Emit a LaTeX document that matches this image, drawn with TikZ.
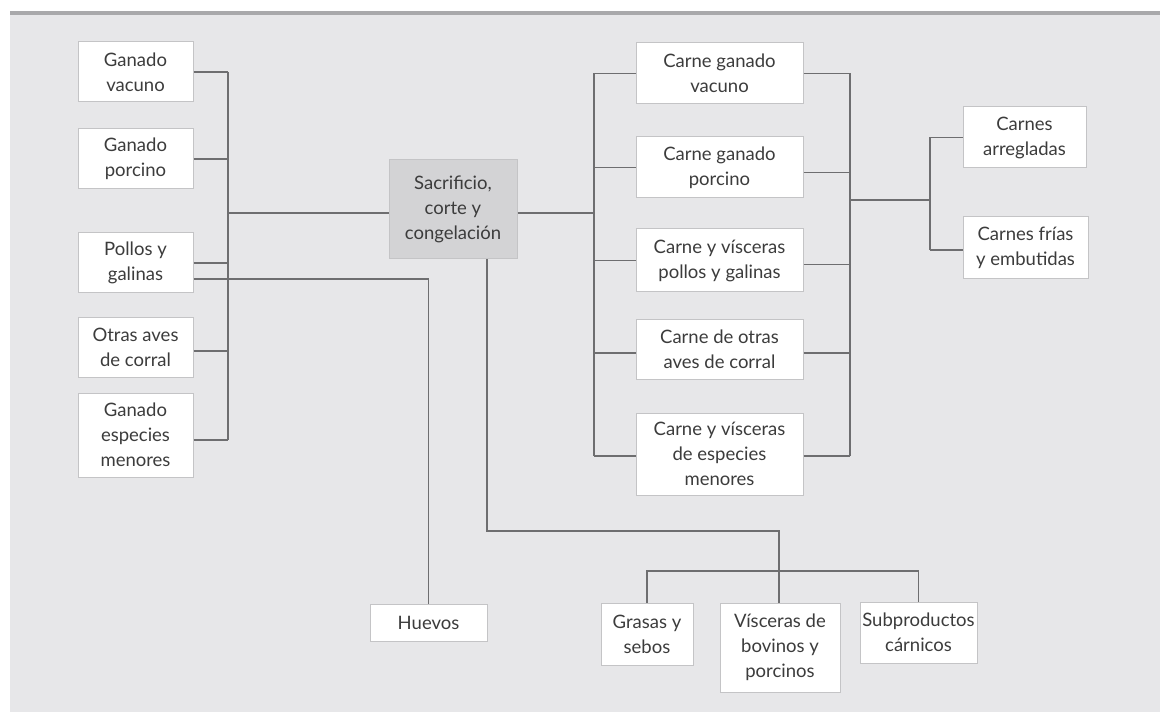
\documentclass[tikz,border=0pt]{standalone}
\usepackage{fontspec}
\setmainfont{Lato}
\definecolor{pagegray}{HTML}{E7E7E9}
\definecolor{barcol}{HTML}{A9A9AB}
\definecolor{boxline}{HTML}{C4C4C6}
\definecolor{corefill}{HTML}{D3D3D5}
\definecolor{linkcol}{HTML}{6E6E70}
\definecolor{txt}{HTML}{3C3C3C}
\tikzset{
  box/.style={draw=boxline, line width=1pt, fill=white, inner sep=0pt,
    align=center, text=txt, font=\fontsize{18.5}{25}\selectfont},
  core/.style={box, fill=corefill, draw=boxline},
  link/.style={draw=linkcol, line width=1.5pt}
}
\begin{document}
\begin{tikzpicture}[x=1pt,y=-1pt]
\useasboundingbox (0,0) rectangle (1160,714);
% page background and top rule
\fill[white] (0,0) rectangle (1160,714);
\fill[pagegray] (10,13) rectangle (1160,712);
\fill[barcol] (10,11) rectangle (1160,15);

% source animals
\node[box, minimum width=115, minimum height=60] (gv) at (135.5,72) {Ganado\\vacuno};
\node[box, minimum width=115, minimum height=60] (gp) at (135.5,159) {Ganado\\porcino};
\node[box, minimum width=115, minimum height=60] (pg) at (135.5,263) {Pollos y\\galinas};
\node[box, minimum width=115, minimum height=60] (oa) at (135.5,347) {Otras aves\\de corral};
\node[box, minimum width=115, minimum height=84] (ge) at (135.5,435) {Ganado\\especies\\menores};

% central process
\node[core, minimum width=128, minimum height=99] (sc) at (453,209.5) {Sacrificio,\\corte y\\congelación};

% meat products
\node[box, minimum width=167, minimum height=61] (cv) at (719.5,73.5) {Carne ganado\\vacuno};
\node[box, minimum width=167, minimum height=61] (cp) at (719.5,167.5) {Carne ganado\\porcino};
\node[box, minimum width=167, minimum height=63] (cpg) at (719.5,260.5) {Carne y vísceras\\pollos y galinas};
\node[box, minimum width=167, minimum height=60] (co) at (719.5,349) {Carne de otras\\aves de corral};
\node[box, minimum width=167, minimum height=82] (ce) at (719.5,454) {Carne y vísceras\\de especies\\menores};

% processed meats
\node[box, minimum width=123, minimum height=61] (ca) at (1024.5,137.5) {Carnes\\arregladas};
\node[box, minimum width=125, minimum height=62] (cf) at (1025.5,248) {Carnes frías\\y embutidas};

% eggs and by-products
\node[box, minimum width=117, minimum height=37] (hu) at (428.5,622.5) {Huevos};
\node[box, minimum width=92, minimum height=62] (gs) at (647,634) {Grasas y\\sebos};
\node[box, minimum width=120, minimum height=89] (vb) at (780,647.5) {Vísceras de\\bovinos y\\porcinos};
\node[box, minimum width=117, minimum height=61] (sp) at (918.5,632.5) {Subproductos\\cárnicos};

% junction points
\coordinate (lb) at (228,213);
\coordinate (rb) at (594,213);
\coordinate (ob) at (850,200);
\coordinate (fb) at (930,200);
\coordinate (d1) at (487,531);
\coordinate (d2) at (779,531);
\coordinate (br) at (647,571);

% animals into the process
\draw[link] (gv.east) -- (gv.east -| lb);
\draw[link] (gp.east) -- (gp.east -| lb);
\draw[link] (pg.east) -- (pg.east -| lb);
\draw[link] ([yshift=-4pt]oa.east) -- ([yshift=-4pt]oa.east -| lb);
\draw[link] ([yshift=-5pt]ge.east) -- ([yshift=-5pt]ge.east -| lb);
\draw[link] (gv.east -| lb) -- ([yshift=-5pt]ge.east -| lb);
\draw[link] (lb) -- (sc.west |- lb);

% process into meat products
\draw[link] (sc.east |- rb) -- (rb);
\draw[link] (cv.west -| rb) -- ([yshift=-2pt]ce.west -| rb);
\draw[link] (cv.west -| rb) -- (cv.west);
\draw[link] (cp.west -| rb) -- (cp.west);
\draw[link] (cpg.west -| rb) -- (cpg.west);
\draw[link] ([yshift=-4pt]co.west -| rb) -- ([yshift=-4pt]co.west);
\draw[link] ([yshift=-2pt]ce.west -| rb) -- ([yshift=-2pt]ce.west);

% meat products into processed meats
\draw[link] (cv.east) -- (cv.east -| ob);
\draw[link] ([yshift=-5pt]cp.east) -- ([yshift=-5pt]cp.east -| ob);
\draw[link] ([yshift=-4pt]cpg.east) -- ([yshift=-4pt]cpg.east -| ob);
\draw[link] ([yshift=-4pt]co.east) -- ([yshift=-4pt]co.east -| ob);
\draw[link] ([yshift=-2pt]ce.east) -- ([yshift=-2pt]ce.east -| ob);
\draw[link] (cv.east -| ob) -- ([yshift=-2pt]ce.east -| ob);
\draw[link] (ob) -- (fb);
\draw[link] (ca.west -| fb) -- ([yshift=-2pt]cf.west -| fb);
\draw[link] (ca.west -| fb) -- (ca.west);
\draw[link] ([yshift=-2pt]cf.west -| fb) -- ([yshift=-2pt]cf.west);

% eggs from poultry
\draw[link] ([yshift=-16pt]pg.east) -| (hu.north);

% by-products from the process
\draw[link] (sc.south -| d1) -- (d1) -- (d2) -- (vb.north -| d2);
\draw[link] (gs.north) -- (gs.north |- br) -- (sp.north |- br) -- (sp.north);
\end{tikzpicture}
\end{document}
